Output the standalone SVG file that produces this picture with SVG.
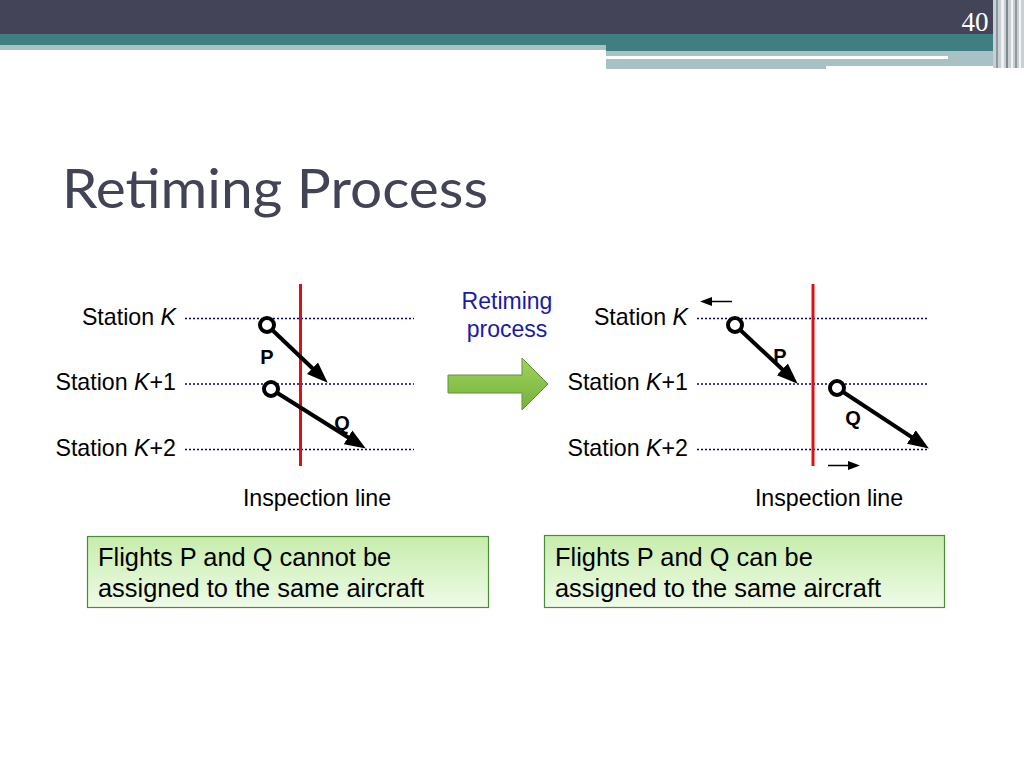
<svg xmlns="http://www.w3.org/2000/svg" width="1024" height="768" viewBox="0 0 1024 768">
<defs>
<style>
.lbl{font-family:"Liberation Sans",Arial,sans-serif;font-size:23.2px;fill:#000}
.big{font-family:"Liberation Sans",Arial,sans-serif;font-size:25.4px;fill:#000}
.pq{font-family:"Liberation Sans",Arial,sans-serif;font-size:20px;font-weight:bold;fill:#000}
.dot{stroke:#000080;stroke-width:1.3;stroke-dasharray:2,2;fill:none}
.red{stroke:#e01010;stroke-width:3;fill:none}
.flt{stroke:#000;stroke-width:4;fill:none;marker-end:url(#ah)}
.node{fill:#fff;stroke:#000;stroke-width:4}
.thin{stroke:#000;stroke-width:1.5;fill:none;marker-end:url(#sh)}
.box{fill:url(#bg);stroke:#4a8c3a;stroke-width:1.2}
</style>
<marker id="ah" markerUnits="userSpaceOnUse" markerWidth="22" markerHeight="18" refX="5" refY="8" orient="auto" viewBox="0 0 22 16">
<path d="M0,0 L21,8 L0,16 z" fill="#000"/>
</marker>
<marker id="sh" markerUnits="userSpaceOnUse" markerWidth="12" markerHeight="10" refX="2" refY="4.5" orient="auto" viewBox="0 0 12 9">
<path d="M0,0 L12,4.5 L0,9 z" fill="#000"/>
</marker>
<linearGradient id="bg" x1="0" y1="0" x2="0" y2="1">
<stop offset="0" stop-color="#c6edab"/>
<stop offset="1" stop-color="#effbe8"/>
</linearGradient>
<linearGradient id="ga" x1="0" y1="0" x2="0" y2="1">
<stop offset="0" stop-color="#9fd35c"/>
<stop offset="1" stop-color="#74b23a"/>
</linearGradient>
</defs>
<rect width="1024" height="768" fill="#fff"/>
<g id="header">
<rect x="0" y="0" width="1024" height="34" fill="#434457"/>
<rect x="0" y="34" width="1024" height="11" fill="#3f7f81"/>
<rect x="0" y="45" width="606" height="5" fill="#a7c1c4"/>
<rect x="606" y="45" width="400" height="6" fill="#3f7f81"/>
<rect x="606" y="51" width="400" height="15" fill="#a7c1c4"/>
<rect x="606" y="66" width="220" height="3" fill="#a7c1c4"/>
<rect x="606" y="56" width="342" height="3" fill="#fff"/>
<rect x="993" y="0" width="31" height="68" fill="#c9cfd2"/>
<rect x="996" y="0" width="2" height="68" fill="#8c9aa0"/>
<rect x="1001" y="0" width="3" height="68" fill="#eef0f1"/>
<rect x="1006" y="0" width="2" height="68" fill="#7d8a90"/>
<rect x="1011" y="0" width="2" height="68" fill="#f2f3f4"/>
<rect x="1015" y="0" width="2" height="68" fill="#8c9aa0"/>
<rect x="1019" y="0" width="2" height="68" fill="#f2f3f4"/>
<text x="975" y="31" text-anchor="middle" font-family="Liberation Serif,serif" font-size="27" fill="#fff">40</text>
</g>
<text id="title" x="62" y="208" font-family="Lato,sans-serif" font-size="55" fill="#424456" textLength="426" lengthAdjust="spacingAndGlyphs">Retiming Process</text>
<g id="left-diagram">
<text class="lbl" x="176" y="325" text-anchor="end">Station <tspan font-style="italic">K</tspan></text>
<text class="lbl" x="176" y="390" text-anchor="end">Station <tspan font-style="italic">K</tspan>+1</text>
<text class="lbl" x="176" y="456" text-anchor="end">Station <tspan font-style="italic">K</tspan>+2</text>
<line class="dot" x1="185" y1="318.5" x2="414" y2="318.5"/>
<line class="dot" x1="185" y1="384" x2="414" y2="384"/>
<line class="dot" x1="185" y1="449.5" x2="414" y2="449.5"/>
<line class="red" x1="300.5" y1="284" x2="300.5" y2="466"/>
<text class="lbl" x="317" y="506" text-anchor="middle">Inspection line</text>
</g>
<g id="left-flights">
<text class="pq" x="267" y="364" text-anchor="middle">P</text>
<text class="pq" x="342" y="430" text-anchor="middle">Q</text>
<line class="flt" x1="267" y1="325" x2="316.1" y2="371.7"/>
<line class="flt" x1="271" y1="389" x2="352.3" y2="440"/>
<circle class="node" cx="267" cy="325" r="7"/>
<circle class="node" cx="271" cy="389" r="7"/>
</g>
<g id="transition">
<text x="507" y="309" text-anchor="middle" font-family="Liberation Sans,Arial,sans-serif" font-size="23" fill="#1a1aa8">Retiming</text>
<text x="507" y="337" text-anchor="middle" font-family="Liberation Sans,Arial,sans-serif" font-size="23" fill="#1a1aa8">process</text>
<polygon points="448,375 522,375 522,358 548,384 522,410 522,393 448,393" fill="url(#ga)" stroke="#6a8f3c" stroke-width="1"/>
</g>
<g id="right-diagram">
<text class="lbl" x="688" y="325" text-anchor="end">Station <tspan font-style="italic">K</tspan></text>
<text class="lbl" x="688" y="390" text-anchor="end">Station <tspan font-style="italic">K</tspan>+1</text>
<text class="lbl" x="688" y="456" text-anchor="end">Station <tspan font-style="italic">K</tspan>+2</text>
<line class="dot" x1="697" y1="318.5" x2="927" y2="318.5"/>
<line class="dot" x1="697" y1="384" x2="927" y2="384"/>
<line class="dot" x1="697" y1="449.5" x2="927" y2="449.5"/>
<line class="red" x1="813" y1="284" x2="813" y2="466"/>
<text class="lbl" x="829" y="506" text-anchor="middle">Inspection line</text>
<line class="thin" x1="732" y1="301.5" x2="710" y2="301.5"/>
<line class="thin" x1="828" y1="465.5" x2="850" y2="465.5"/>
</g>
<g id="right-flights">
<text class="pq" x="780" y="363" text-anchor="middle">P</text>
<text class="pq" x="853" y="425" text-anchor="middle">Q</text>
<line class="flt" x1="735" y1="325" x2="786" y2="372.8"/>
<line class="flt" x1="837" y1="388" x2="915.5" y2="439.7"/>
<circle class="node" cx="735" cy="325" r="7"/>
<circle class="node" cx="837" cy="388" r="7"/>
</g>
<g id="box-left">
<rect class="box" x="87.5" y="536.5" width="401" height="71"/>
<text class="big" x="98" y="566">Flights P and Q cannot be</text>
<text class="big" x="98" y="597">assigned to the same aircraft</text>
</g>
<g id="box-right">
<rect class="box" x="544.5" y="535.5" width="400" height="72"/>
<text class="big" x="555" y="566">Flights P and Q can be</text>
<text class="big" x="555" y="597">assigned to the same aircraft</text>
</g>
</svg>
